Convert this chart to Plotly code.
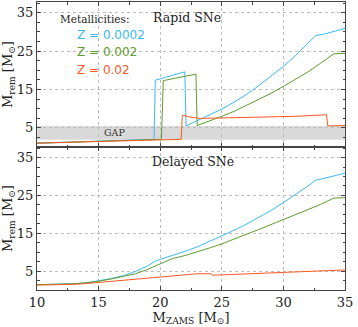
import plotly.graph_objects as go
from plotly.subplots import make_subplots

# rapid SNe (top panel)
m_rap_z0002 = [10, 12, 14, 16, 18, 19.5, 19.6, 22.0, 22.1, 23, 24, 25, 26, 27, 28, 29, 30, 31, 32, 32.6, 33.5, 34.3, 35]
r_rap_z0002 = [1.0, 1.2, 1.4, 1.6, 1.8, 2.0, 17.4, 19.6, 5.5, 6.9, 8.4, 9.9, 11.7, 13.7, 16.0, 18.4, 21.0, 23.9, 27.0, 29.0, 29.6, 30.2, 30.9]

m_rap_z002 = [10, 12, 14, 16, 18, 20.1, 20.25, 22.9, 23.0, 24, 25, 26, 27, 28, 29, 30, 31, 32, 33, 34.1, 35]
r_rap_z002 = [1.0, 1.2, 1.4, 1.6, 1.8, 2.0, 17.3, 19.0, 5.6, 6.7, 8.0, 9.3, 10.8, 12.3, 14.0, 15.8, 17.6, 19.6, 21.8, 24.3, 24.4]

m_rap_z02 = [10, 12, 14, 16, 18, 20, 21.7, 21.8, 22.3, 23.2, 25, 27, 29, 31, 33.5, 33.6, 35]
r_rap_z02 = [1.0, 1.2, 1.4, 1.55, 1.7, 1.85, 2.0, 8.3, 7.9, 7.45, 7.55, 7.7, 7.85, 8.0, 8.4, 5.5, 5.6]

# delayed SNe (bottom panel)
m_del_z0002 = [10, 12, 13, 14, 15, 16, 17, 18, 19, 19.6, 20, 21, 22, 23, 24, 25, 26, 27, 28, 29, 30, 31, 32, 32.6, 33.5, 34.3, 35]
r_del_z0002 = [1.4, 1.5, 1.65, 1.9, 2.4, 3.0, 3.8, 4.9, 6.4, 7.6, 8.1, 9.1, 10.2, 11.4, 12.8, 14.2, 15.8, 17.4, 19.1, 21.0, 23.1, 25.2, 27.5, 29.0, 29.6, 30.3, 30.9]

m_del_z002 = [10, 12, 13, 14, 15, 16, 17, 18, 19, 20, 20.5, 21, 22, 23, 24, 25, 26, 27, 28, 29, 30, 31, 32, 33, 34.1, 35]
r_del_z002 = [1.4, 1.5, 1.65, 1.9, 2.3, 2.9, 3.5, 4.3, 5.5, 6.9, 7.7, 8.3, 9.1, 10.0, 11.1, 12.2, 13.4, 14.7, 16.0, 17.3, 18.6, 19.9, 21.2, 22.6, 24.3, 24.4]

m_del_z02 = [10, 12, 13, 14, 15, 16, 17, 18, 19, 20, 21, 22, 23, 24.1, 24.25, 25, 27, 30, 33, 35]
r_del_z02 = [1.3, 1.4, 1.5, 1.7, 2.0, 2.3, 2.6, 2.9, 3.2, 3.5, 3.8, 4.1, 4.3, 4.3, 3.9, 4.0, 4.3, 4.7, 5.0, 5.3]

labels = ["Z = 0.0002", "Z = 0.002", "Z = 0.02"]
colors = ["#3bb9f5", "#5f9c2e", "#fa5a24"]

rapid = [(m_rap_z0002, r_rap_z0002), (m_rap_z002, r_rap_z002), (m_rap_z02, r_rap_z02)]
delayed = [(m_del_z0002, r_del_z0002), (m_del_z002, r_del_z002), (m_del_z02, r_del_z02)]

fig = make_subplots(rows=2, cols=1, shared_xaxes=True, vertical_spacing=0)

for (m, r), c in zip(rapid, colors):
    fig.add_trace(go.Scatter(x=m, y=r, mode="lines", line=dict(color=c, width=1)), row=1, col=1)
for (m, r), c in zip(delayed, colors):
    fig.add_trace(go.Scatter(x=m, y=r, mode="lines", line=dict(color=c, width=1)), row=2, col=1)

# mass gap band
fig.add_shape(type="rect", xref="x", yref="y", x0=10, x1=35, y0=1.9, y1=5.5,
              fillcolor="#d9d9d9", line_width=0, layer="below")

serif = "DejaVu Serif"
ax_common = dict(showline=True, linecolor="#444", linewidth=1, mirror="ticks",
                 ticks="inside", ticklen=4, tickcolor="#444",
                 showgrid=True, gridcolor="#bdbdbd", griddash="dot", gridwidth=1,
                 zeroline=False, tickfont=dict(family=serif, size=13, color="#222"))

for i in (1, 2):
    fig.update_xaxes(range=[10, 35], tickvals=[10, 15, 20, 25, 30, 35],
                     minor=dict(dtick=2.5, tick0=10, ticks="inside", ticklen=2.5, tickcolor="#444", showgrid=False),
                     row=i, col=1, **ax_common)
    fig.update_yaxes(range=[0, 37.8], tickvals=[5, 15, 25, 35],
                     minor=dict(dtick=2.5, tick0=0, ticks="inside", ticklen=2.5, tickcolor="#444", showgrid=False),
                     title=dict(text="M<sub>rem</sub> [M<sub>⊙</sub>]", font=dict(family=serif, size=13, color="#222"), standoff=4),
                     row=i, col=1, **ax_common)

fig.update_xaxes(showticklabels=False, row=1, col=1)
fig.update_xaxes(title=dict(text="M<sub>ZAMS</sub> [M<sub>⊙</sub>]", font=dict(family=serif, size=13, color="#222"), standoff=2),
                 row=2, col=1)
fig.update_layout(yaxis=dict(domain=[0.4965, 1]), yaxis2=dict(domain=[0, 0.4965]))

# text labels
fig.add_annotation(x=22.2, y=33.7, xref="x", yref="y", text="Rapid SNe", showarrow=False,
                   font=dict(family=serif, size=12.5, color="#222"))
fig.add_annotation(x=22.7, y=34.0, xref="x2", yref="y2", text="Delayed SNe", showarrow=False,
                   font=dict(family=serif, size=12.5, color="#222"))
fig.add_annotation(x=14.67, y=33.4, xref="x", yref="y", text="Metallicities:", showarrow=False,
                   font=dict(family=serif, size=10.5, color="#222"))
for lab, c, yy in zip(labels, colors, [29.2, 24.8, 20.1]):
    fig.add_annotation(x=13.05, y=yy, xref="x", yref="y", text=lab, showarrow=False, xanchor="left",
                       font=dict(family="DejaVu Sans", size=12, color=c))
fig.add_annotation(x=16.3, y=3.8, xref="x", yref="y", text="GAP", showarrow=False,
                   font=dict(family=serif, size=9.5, color="#333"))

fig.update_layout(width=358, height=327, showlegend=False,
                  margin=dict(l=37, r=13, t=2, b=37),
                  plot_bgcolor="white", paper_bgcolor="white")

fig.write_html("out.html", config={"displayModeBar": False},
               post_script="document.body.style.margin='0';")
